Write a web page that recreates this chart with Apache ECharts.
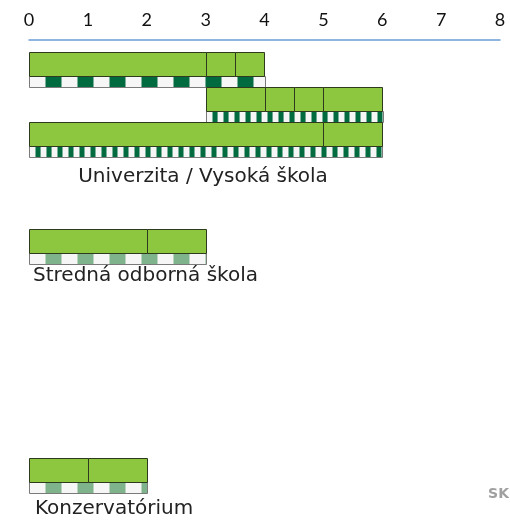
<!DOCTYPE html>
<html>
<head>
<meta charset="utf-8">
<script src="https://cdn.jsdelivr.net/npm/echarts@6/dist/echarts.min.js"></script>
<style>
  html, body { margin: 0; padding: 0; background: #fff; }
  #chart { width: 510px; height: 520px; }
</style>
</head>
<body>
<div id="chart"></div>
<script>
// years of study scale
const xTicks = [0, 1, 2, 3, 4, 5, 6, 7, 8]

const groupNames = ['Univerzita / Vysoká škola', 'Stredná odborná škola', 'Konzervatórium']

// green segments: [start, end, row]
const uniSegments = [[0, 3, 0], [3, 3.5, 0], [3.5, 4, 0], [3, 4, 1], [4, 4.5, 1], [4.5, 5, 1], [5, 6, 1], [0, 5, 2], [5, 6, 2]]
const sosSegments = [[0, 2, 0], [2, 3, 0]]
const konzSegments = [[0, 1, 0], [1, 2, 0]]

// striped band under each programme: [start, end, row, pattern]
const uniSpans = [[0, 4, 0, 'coarse'], [3, 6, 1, 'fine'], [0, 6, 2, 'fine']]
const sosSpans = [[0, 3, 0, 'light']]
const konzSpans = [[0, 2, 0, 'light']]

const GREEN = '#8dc63f'
const DARK = '#006b3f'
const LIGHT = '#7fb38b'
const OFFWHITE = '#f6f6f6'

function stripe(dark, wLight, wDark, h) {
  const c = document.createElement('canvas')
  c.width = wLight + wDark
  c.height = h
  const ctx = c.getContext('2d')
  ctx.fillStyle = OFFWHITE
  ctx.fillRect(0, 0, wLight, h)
  ctx.fillStyle = dark
  ctx.fillRect(wLight, 0, wDark, h)
  return c
}

const patterns = {
  coarse: { image: stripe(DARK, 16, 16, 12), repeat: 'repeat' },
  fine: { image: stripe(DARK, 6, 5, 12), repeat: 'repeat' },
  light: { image: stripe(LIGHT, 16, 16, 12), repeat: 'repeat' },
}

const GREEN_SHARE = 24 / 35

function renderSegment(params, api) {
  const start = api.coord([api.value(0), api.value(2)])
  const end = api.coord([api.value(1), api.value(2)])
  const band = api.size([0, 1])[1]
  const top = start[1] - band / 2
  return {
    type: 'rect',
    shape: { x: Math.round(start[0]) + 0.5, y: Math.round(top) + 0.5, width: Math.round(end[0] - start[0]), height: Math.round(band * GREEN_SHARE) },
    style: { fill: GREEN, stroke: '#2e3a1e', lineWidth: 1 },
  }
}

function renderSpan(params, api) {
  const start = api.coord([api.value(0), api.value(2)])
  const end = api.coord([api.value(1), api.value(2)])
  const band = api.size([0, 1])[1]
  const top = Math.round(start[1] - band / 2 + band * GREEN_SHARE)
  const kind = api.value(3)
  // place the rect by transform so the stripe pattern starts at the bar's left edge
  return {
    type: 'rect',
    x: Math.round(start[0]) + 0.5,
    y: top + 0.5,
    shape: { x: 0, y: 0, width: Math.round(end[0] - start[0]), height: Math.round(band - band * GREEN_SHARE) },
    style: { fill: patterns[kind], stroke: '#7a7a7a', lineWidth: 1 },
  }
}

function xAxisFor(gridIndex, show) {
  return {
    type: 'value',
    gridIndex,
    min: 0,
    max: 8,
    interval: 1,
    show,
    position: 'top',
    offset: 12,
    axisLine: { show: true, lineStyle: { color: '#6a9fd8', width: 1.5 } },
    axisTick: { show: false },
    splitLine: { show: false },
    axisLabel: { color: '#111', fontSize: 18, fontFamily: 'Lato, "Open Sans", sans-serif', margin: 11, formatter: v => xTicks.includes(v) ? String(v) : '' },
  }
}

function yAxisFor(gridIndex, rows) {
  return { type: 'category', gridIndex, data: rows, inverse: true, show: false }
}

function seriesFor(gridIndex, segments, spans) {
  return [
    { type: 'custom', xAxisIndex: gridIndex, yAxisIndex: gridIndex, renderItem: renderSpan, data: spans, encode: { x: [0, 1], y: 2 }, silent: true },
    { type: 'custom', xAxisIndex: gridIndex, yAxisIndex: gridIndex, renderItem: renderSegment, data: segments, encode: { x: [0, 1], y: 2 }, silent: true },
  ]
}

const chart = echarts.init(document.getElementById('chart'), null, { renderer: 'canvas' })

const labelFont = '20px "DejaVu Sans", Verdana, sans-serif'

chart.setOption({
  animation: false,
  grid: [
    { left: 29, width: 471, top: 52, height: 105 },
    { left: 29, width: 471, top: 229, height: 35 },
    { left: 29, width: 471, top: 458, height: 35 },
  ],
  xAxis: [xAxisFor(0, true), xAxisFor(1, false), xAxisFor(2, false)],
  yAxis: [yAxisFor(0, ['a', 'b', 'c']), yAxisFor(1, ['a']), yAxisFor(2, ['a'])],
  series: [
    ...seriesFor(0, uniSegments, uniSpans),
    ...seriesFor(1, sosSegments, sosSpans),
    ...seriesFor(2, konzSegments, konzSpans),
  ],
  graphic: [
    { type: 'text', x: 203, y: 177, style: { text: groupNames[0], font: labelFont, fill: '#222', align: 'center', verticalAlign: 'middle' } },
    { type: 'text', x: 33, y: 276, style: { text: groupNames[1], font: labelFont, fill: '#222', align: 'left', verticalAlign: 'middle' } },
    { type: 'text', x: 35, y: 509, style: { text: groupNames[2], font: labelFont, fill: '#222', align: 'left', verticalAlign: 'middle' } },
    { type: 'text', x: 509, y: 494, style: { text: 'SK', font: 'bold 14px "DejaVu Sans", Verdana, sans-serif', fill: '#a0a0a0', align: 'right', verticalAlign: 'middle' } },
  ],
})
</script>
</body>
</html>
